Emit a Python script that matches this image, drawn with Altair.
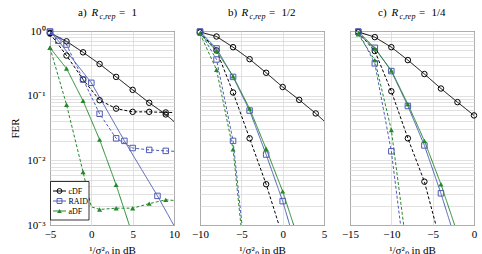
import altair as alt
import pandas as pd

# ---------------- data (x in dB, FER) ----------------
SCHEMES = ["cDF", "RAID", "aDF"]
COLORS = ["#000000", "#4f5bb5", "#23892b"]
SHAPES = ["circle", "square", "triangle-up"]

# panel a) R_c,rep = 1
a_cdf_solid_x = [-5, -3, -1, 1, 3, 5, 7, 9, 10]
a_cdf_solid_y = [0.933, 0.692, 0.468, 0.309, 0.195, 0.123, 0.0776, 0.0513, 0.0398]
a_cdf_solid_m = [1, 1, 1, 1, 1, 1, 1, 1, 0]
a_cdf_dash_x = [-5, -3, -1, 1, 3, 5, 7, 9, 10]
a_cdf_dash_y = [0.912, 0.417, 0.178, 0.0851, 0.0631, 0.0562, 0.0562, 0.0550, 0.0550]
a_cdf_dash_m = [1, 1, 1, 1, 1, 1, 1, 1, 0]
a_raid_solid_x = [-5, -4, 0, 4, 8, 10]
a_raid_solid_y = [0.977, 0.708, 0.158, 0.0200, 0.00282, 0.00098]
a_raid_solid_m = [1, 1, 1, 1, 1, 0]
a_raid_dash_x = [-5, -3, -1, 1, 3, 5, 7, 9, 10]
a_raid_dash_y = [0.977, 0.617, 0.178, 0.0525, 0.0219, 0.0155, 0.0145, 0.0140, 0.0138]
a_raid_dash_m = [1, 1, 1, 1, 1, 1, 1, 1, 0]
a_adf_solid_x = [-5, -3, -1, 1, 3, 5]
a_adf_solid_y = [0.550, 0.263, 0.0832, 0.0209, 0.00417, 0.00069]
a_adf_solid_m = [1, 1, 1, 1, 1, 1]
a_adf_dash_x = [-5, -3, -1, 0, 1, 3, 5, 7, 9, 10]
a_adf_dash_y = [0.550, 0.0724, 0.00661, 0.00191, 0.00174, 0.00182, 0.00182, 0.00214, 0.00245, 0.00240]
a_adf_dash_m = [1, 1, 1, 0, 1, 1, 1, 1, 1, 0]

# panel b) R_c,rep = 1/2
b_cdf_solid_x = [-10, -8, -6, -4, -2, 0, 2, 4, 5]
b_cdf_solid_y = [0.966, 0.822, 0.562, 0.367, 0.226, 0.136, 0.0861, 0.0531, 0.0407]
b_cdf_solid_m = [1, 1, 1, 1, 1, 1, 1, 1, 0]
b_cdf_dash_x = [-10, -8, -6, -4, -2, 0]
b_cdf_dash_y = [0.955, 0.501, 0.112, 0.0219, 0.00427, 0.00066]
b_cdf_dash_m = [1, 1, 1, 1, 1, 1]
b_raid_solid_x = [-10, -8, -6, -4, -2, 0, 2]
b_raid_solid_y = [0.977, 0.537, 0.195, 0.0589, 0.0123, 0.00234, 0.000316]
b_raid_solid_m = [1, 1, 1, 1, 1, 1, 1]
b_adf_solid_x = [-10, -8, -6, -4, -2, 0, 2]
b_adf_solid_y = [0.912, 0.490, 0.200, 0.0631, 0.0151, 0.00331, 0.00055]
b_adf_solid_m = [1, 1, 1, 1, 1, 1, 1]
b_raid_dash_x = [-10, -8, -6, -4]
b_raid_dash_y = [0.977, 0.363, 0.0200, 0.0000794]
b_raid_dash_m = [1, 1, 1, 1]
b_adf_dash_x = [-10, -8, -6, -4]
b_adf_dash_y = [0.912, 0.251, 0.0148, 0.0000501]
b_adf_dash_m = [1, 1, 1, 1]

# panel c) R_c,rep = 1/4
c_cdf_solid_x = [-14, -12, -10, -8, -6, -4, -2, 0]
c_cdf_solid_y = [0.966, 0.804, 0.562, 0.355, 0.216, 0.129, 0.0794, 0.0495]
c_cdf_solid_m = [1, 1, 1, 1, 1, 1, 1, 1]
c_cdf_dash_x = [-14, -12, -10, -8, -6, -4]
c_cdf_dash_y = [0.955, 0.490, 0.117, 0.0219, 0.00468, 0.00051]
c_cdf_dash_m = [1, 1, 1, 1, 1, 1]
c_raid_solid_x = [-14, -12, -10, -8, -6, -4, -2]
c_raid_solid_y = [0.977, 0.550, 0.240, 0.0692, 0.0170, 0.00309, 0.000468]
c_raid_solid_m = [1, 1, 1, 1, 1, 1, 1]
c_adf_solid_x = [-14, -12, -10, -8, -6, -4, -2]
c_adf_solid_y = [0.912, 0.537, 0.245, 0.0741, 0.0200, 0.00427, 0.00074]
c_adf_solid_m = [1, 1, 1, 1, 1, 1, 1]
c_raid_dash_x = [-14, -12, -10, -8]
c_raid_dash_y = [0.977, 0.316, 0.0138, 0.000126]
c_raid_dash_m = [1, 1, 1, 1]
c_adf_dash_x = [-14, -12, -10, -8]
c_adf_dash_y = [0.891, 0.355, 0.0295, 0.000316]
c_adf_dash_m = [1, 1, 1, 1]

SERIES = [
    ("a", "cDF", "solid", a_cdf_solid_x, a_cdf_solid_y, a_cdf_solid_m),
    ("a", "cDF", "dashed", a_cdf_dash_x, a_cdf_dash_y, a_cdf_dash_m),
    ("a", "RAID", "solid", a_raid_solid_x, a_raid_solid_y, a_raid_solid_m),
    ("a", "RAID", "dashed", a_raid_dash_x, a_raid_dash_y, a_raid_dash_m),
    ("a", "aDF", "solid", a_adf_solid_x, a_adf_solid_y, a_adf_solid_m),
    ("a", "aDF", "dashed", a_adf_dash_x, a_adf_dash_y, a_adf_dash_m),
    ("b", "cDF", "solid", b_cdf_solid_x, b_cdf_solid_y, b_cdf_solid_m),
    ("b", "cDF", "dashed", b_cdf_dash_x, b_cdf_dash_y, b_cdf_dash_m),
    ("b", "RAID", "solid", b_raid_solid_x, b_raid_solid_y, b_raid_solid_m),
    ("b", "RAID", "dashed", b_raid_dash_x, b_raid_dash_y, b_raid_dash_m),
    ("b", "aDF", "solid", b_adf_solid_x, b_adf_solid_y, b_adf_solid_m),
    ("b", "aDF", "dashed", b_adf_dash_x, b_adf_dash_y, b_adf_dash_m),
    ("c", "cDF", "solid", c_cdf_solid_x, c_cdf_solid_y, c_cdf_solid_m),
    ("c", "cDF", "dashed", c_cdf_dash_x, c_cdf_dash_y, c_cdf_dash_m),
    ("c", "RAID", "solid", c_raid_solid_x, c_raid_solid_y, c_raid_solid_m),
    ("c", "RAID", "dashed", c_raid_dash_x, c_raid_dash_y, c_raid_dash_m),
    ("c", "aDF", "solid", c_adf_solid_x, c_adf_solid_y, c_adf_solid_m),
    ("c", "aDF", "dashed", c_adf_dash_x, c_adf_dash_y, c_adf_dash_m),
]

rows = []
for panel, scheme, style, xs, ys, ms in SERIES:
    for x, y, m in zip(xs, ys, ms):
        rows.append(dict(panel=panel, scheme=scheme, style=style,
                         series=f"{scheme}-{style}", x=x, fer=y, mk=m))
df = pd.DataFrame(rows)

PANELS = [
    ("a", [-5, 10], [-5, 0, 5, 10], "a)", "1", True),
    ("b", [-10, 5], [-10, -5, 0, 5], "b)", "1/2", False),
    ("c", [-15, 0], [-15, -10, -5, 0], "c)", "1/4", False),
]

YVALS = [1.0] + [round(k * 10.0 ** e, 6) for e in (-1, -2, -3) for k in range(1, 10)]
YLABEL = ("datum.value > 0.99 ? '10⁰' : abs(datum.value - 0.1) < 1e-9 ? '10⁻¹' : "
          "abs(datum.value - 0.01) < 1e-10 ? '10⁻²' : abs(datum.value - 0.001) < 1e-11 ? '10⁻³' : ''")

FONT = "Liberation Serif"
W, H = 124, 194

cscale = alt.Scale(domain=SCHEMES, range=COLORS)
sscale = alt.Scale(domain=SCHEMES, range=SHAPES)
dscale = alt.Scale(domain=["solid", "dashed"], range=[[1, 0], [3, 2]])


def text_piece(txt, x, y, size=11, italic=False, align="left", baseline="alphabetic"):
    return alt.Chart(pd.DataFrame({"t": [txt]})).mark_text(
        font=FONT, fontSize=size, fontStyle="italic" if italic else "normal",
        align=align, baseline=baseline, color="black"
    ).encode(x=alt.value(x), y=alt.value(y), text="t:N")


def make_panel(pid, dom, ticks, label, rate, show_y):
    d = df[df.panel == pid]
    xenc = alt.X("x:Q", scale=alt.Scale(domain=dom, nice=False, zero=False),
                 axis=alt.Axis(values=ticks, title="¹/σ²ₙ in dB", grid=True, ticks=False,
                               domain=False, labelFlush=False, labelPadding=3,
                               titlePadding=5, format="d"))
    if show_y:
        yaxis = alt.Axis(values=YVALS, labelExpr=YLABEL, grid=True, ticks=False, domain=False,
                         labelOverlap=False, labelFlush=False, labelBound=False,
                         title="FER", titlePadding=6, labelPadding=5)
    else:
        yaxis = alt.Axis(values=YVALS, labels=False, grid=True, ticks=False, domain=False,
                         title=None)
    yenc = alt.Y("fer:Q", scale=alt.Scale(type="log", domain=[1e-3, 1], nice=False), axis=yaxis)

    base = alt.Chart(d)
    lines = base.mark_line(clip=True, strokeWidth=1).encode(
        x=xenc, y=yenc,
        color=alt.Color("scheme:N", scale=cscale, legend=None),
        strokeDash=alt.StrokeDash("style:N", scale=dscale, legend=None),
        detail="series:N",
    )
    inside = "datum.mk == 1 && datum.fer >= 0.001"
    open_pts = base.transform_filter(inside + " && datum.scheme != 'aDF'").mark_point(
        filled=False, size=30, strokeWidth=1, opacity=1).encode(
        x=xenc, y=yenc,
        color=alt.Color("scheme:N", scale=cscale, legend=None),
        shape=alt.Shape("scheme:N", scale=sscale, legend=None),
    )
    fill_pts = base.transform_filter(inside + " && datum.scheme == 'aDF'").mark_point(
        filled=True, size=26, opacity=1).encode(
        x=xenc, y=yenc,
        color=alt.Color("scheme:N", scale=cscale, legend=None),
        shape=alt.Shape("scheme:N", scale=sscale, legend=None),
    )
    layers = [lines, open_pts, fill_pts,
              text_piece(label, 28, -15.5),
              text_piece("R", 41.5, -15.5, italic=True),
              text_piece("c,rep", 49.5, -12.5, size=8, italic=True),
              text_piece("=", 69, -15.5),
              text_piece(rate, 81.5, -15.5)]
    if pid == "a":
        box = alt.Chart(pd.DataFrame({"t": [0]})).mark_rect(
            fill="white", stroke="black", strokeWidth=0.8).encode(
            x=alt.value(0.5), x2=alt.value(39), y=alt.value(150.5), y2=alt.value(189))
        layers.append(box)
        for i, (name, col, shp) in enumerate(zip(SCHEMES, COLORS, SHAPES)):
            yy = 160 + 10 * i
            layers.append(alt.Chart(pd.DataFrame({"t": [name]})).mark_rule(
                color=col, strokeWidth=1).encode(x=alt.value(3), x2=alt.value(16), y=alt.value(yy)))
            layers.append(alt.Chart(pd.DataFrame({"t": [name]})).mark_point(
                shape=shp, color=col, filled=(name == "aDF"), size=22 if name == "aDF" else 24,
                strokeWidth=1, opacity=1).encode(x=alt.value(9.5), y=alt.value(yy)))
            layers.append(text_piece(name, 18.5, yy + 0.5, size=8, baseline="middle"))
    return alt.layer(*layers).properties(width=W, height=H)


panels = [make_panel(*p) for p in PANELS]
chart = alt.hconcat(*panels, spacing=26, bounds="flush").configure_view(
    stroke="black", strokeWidth=1
).configure_axis(
    gridColor="#d9d9d9", gridWidth=0.8,
    labelFont=FONT, titleFont=FONT, labelFontSize=11, titleFontSize=11,
    titleFontWeight="normal", labelColor="black", titleColor="black",
).properties(padding={"left": 9, "top": 6, "right": 0, "bottom": 0})

chart.save("out.html", embed_options={"renderer": "svg", "actions": False})
